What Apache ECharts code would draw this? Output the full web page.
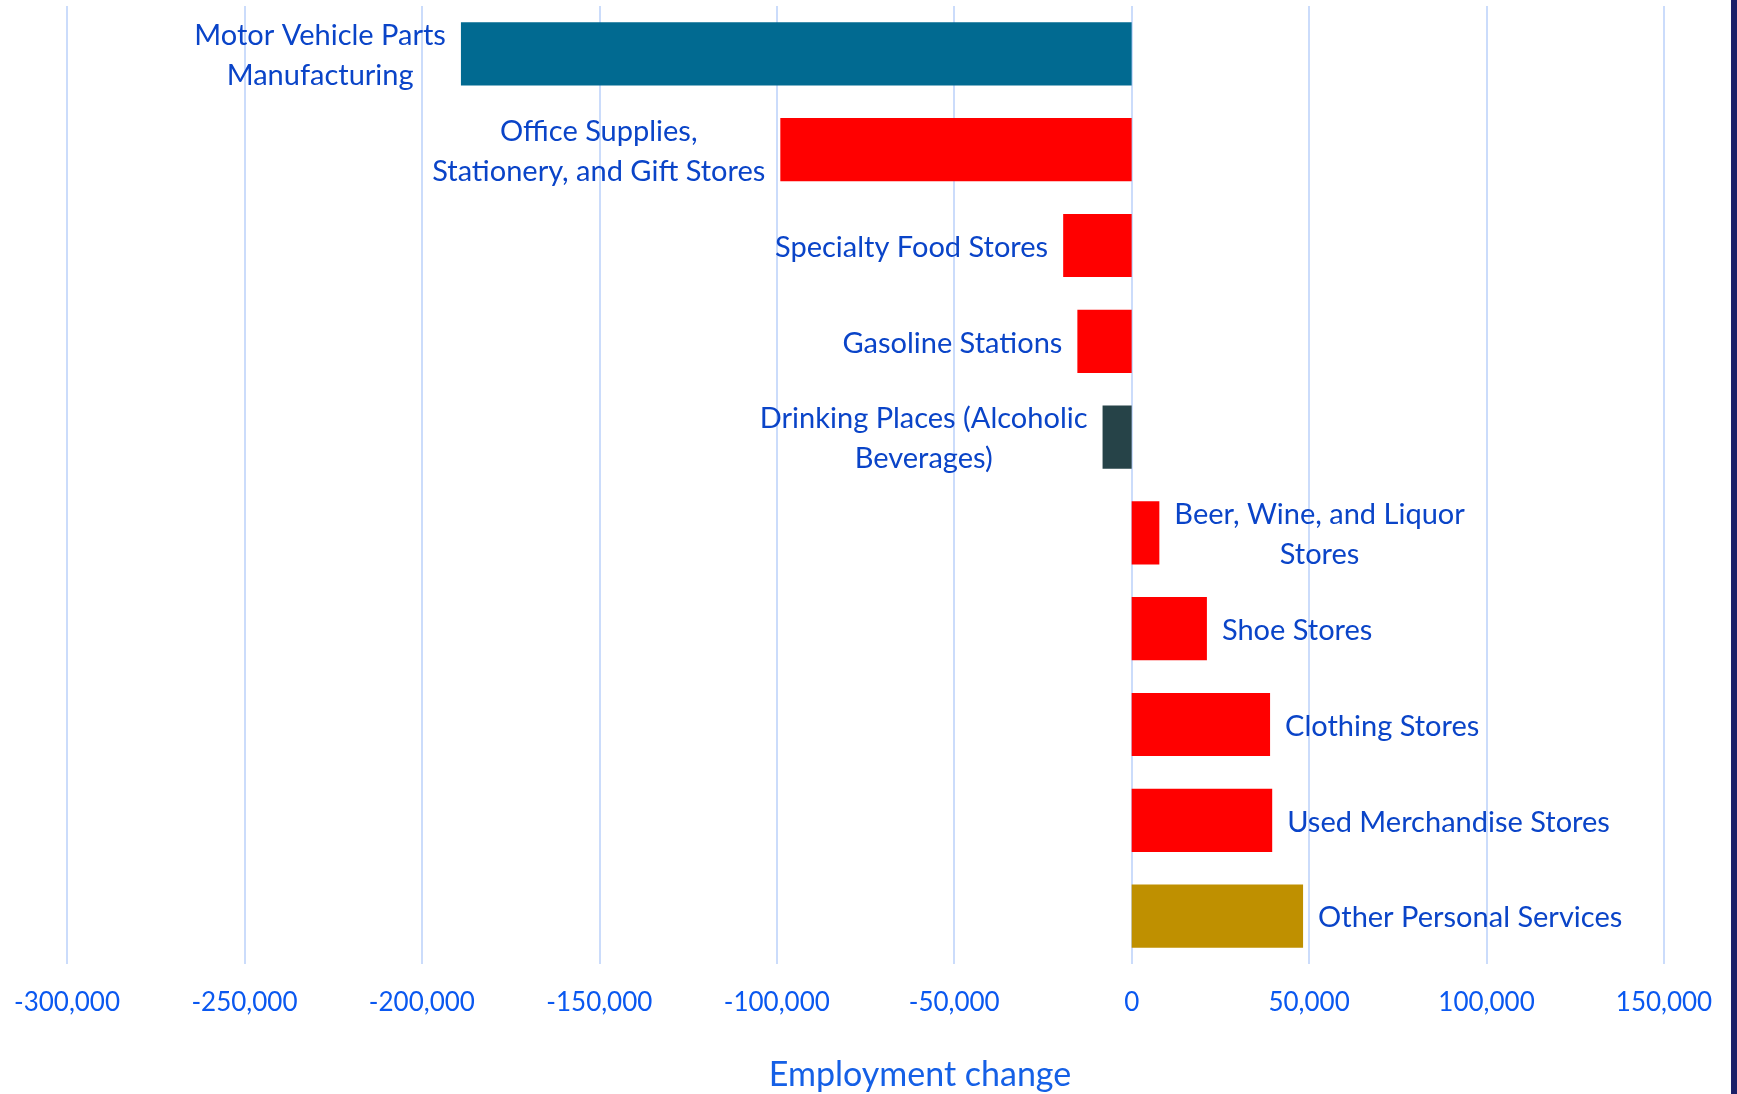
<!DOCTYPE html>
<html>
<head>
<meta charset="utf-8">
<title>Employment change by industry</title>
<script src="https://cdn.jsdelivr.net/npm/echarts@6/dist/echarts.min.js"></script>
<style>
  html, body { margin: 0; padding: 0; background: #ffffff; }
  #chart { width: 1737px; height: 1094px; }
</style>
</head>
<body>
<div id="chart"></div>
<script>
// Industries, top to bottom
const industries = [
  'Motor Vehicle Parts\nManufacturing',
  'Office Supplies,\nStationery, and Gift Stores',
  'Specialty Food Stores',
  'Gasoline Stations',
  'Drinking Places (Alcoholic\nBeverages)',
  'Beer, Wine, and Liquor\nStores',
  'Shoe Stores',
  'Clothing Stores',
  'Used Merchandise Stores',
  'Other Personal Services'
];

// Employment change per industry
const employmentChange = [-189000, -99000, -19300, -15300, -8200, 7800, 21200, 39000, 39600, 48300];

// Bar fill per industry
const barColors = ['#016a91', '#ff0000', '#ff0000', '#ff0000', '#264348',
                   '#ff0000', '#ff0000', '#ff0000', '#ff0000', '#bf9000'];

// Value axis ticks
const axisMin = -300000;
const axisMax = 150000;
const axisStep = 50000;

const labelFont = 'Lato, "Open Sans", sans-serif';
const labelColor = '#0a44c8';

const chart = echarts.init(document.getElementById('chart'), null, { renderer: 'canvas' });

const barData = employmentChange.map((v, i) => ({
  value: v,
  itemStyle: { color: barColors[i] },
  label: { position: v < 0 ? 'left' : 'right' }
}));

chart.setOption({
  animation: false,
  backgroundColor: '#ffffff',
  grid: { left: 67, right: 73, top: 6, bottom: 130, containLabel: false },
  xAxis: {
    type: 'value',
    min: axisMin,
    max: axisMax,
    interval: axisStep,
    axisLine: { show: false },
    axisTick: { show: false },
    splitLine: { show: true, lineStyle: { color: '#cbdcfb', width: 2 } },
    axisLabel: {
      margin: 26,
      color: '#0a58f0',
      fontFamily: labelFont,
      fontSize: 26,
      formatter: v => v.toLocaleString('en-US')
    }
  },
  yAxis: {
    type: 'category',
    inverse: true,
    data: industries,
    axisLine: { show: false },
    axisTick: { show: false },
    axisLabel: { show: false },
    splitLine: { show: false }
  },
  series: [{
    type: 'bar',
    data: barData,
    barWidth: '66%',
    label: {
      show: true,
      distance: 15,
      offset: [0, 2],
      formatter: p => industries[p.dataIndex].split('\n').map(s => '{c|' + s + '}').join('\n'),
      rich: {
        c: {
          align: 'center',
          color: labelColor,
          fontFamily: labelFont,
          fontSize: 29,
          lineHeight: 40
        }
      }
    }
  }],
  graphic: [
    {
      type: 'text',
      x: 920,
      y: 1075,
      style: {
        text: 'Employment change',
        fill: '#1560e6',
        font: '34px ' + labelFont,
        textAlign: 'center',
        textVerticalAlign: 'middle'
      }
    },
    {
      type: 'rect',
      right: 0,
      top: 0,
      shape: { width: 6, height: 1094 },
      style: { fill: '#1c2068' }
    }
  ]
});
</script>
</body>
</html>
